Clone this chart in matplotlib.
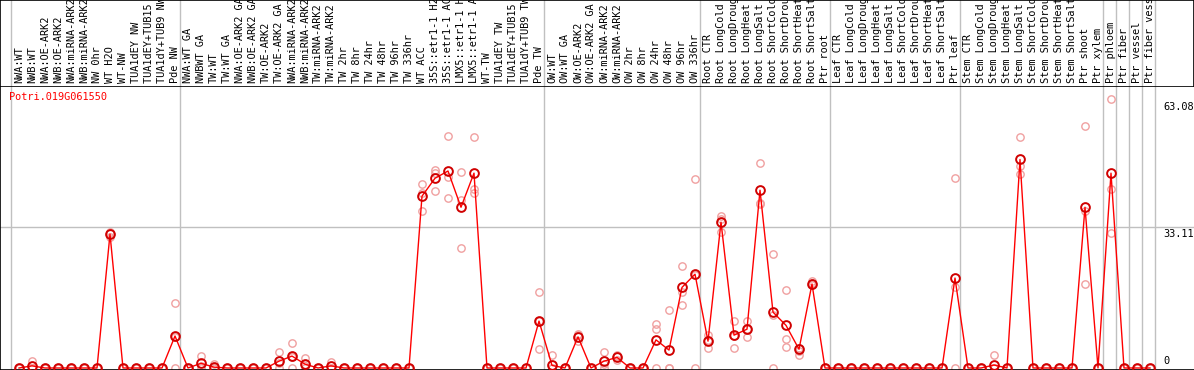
import matplotlib
matplotlib.use("Agg")
import matplotlib.pyplot as plt

# nomes das amostras (uma coluna por amostra)
amostras = [
    "NWA:WT", "NWB:WT", "NWA:OE-ARK2", "NWB:OE-ARK2", "NWA:miRNA-ARK2",
    "NWB:miRNA-ARK2", "NW 0hr", "WT H2O", "WT-NW", "TUA1dEY NW",
    "TUA1dEY+TUB15 NW", "TUA1dY+TUB9 NW", "Pde NW",
    "NWA:WT GA", "NWBWT GA", "TW:WT", "TW:WT GA", "NWA:OE-ARK2 GA",
    "NWB:OE-ARK2 GA", "TW:OE-ARK2", "TW:OE-ARK2 GA", "NWA:miRNA-ARK2",
    "NWB:miRNA-ARK2", "TW:miRNA-ARK2", "TW:miRNA-ARK2", "TW 2hr", "TW 8hr",
    "TW 24hr", "TW 48hr", "TW 96hr", "TW 336hr", "WT ACC",
    "35S::etr1-1 H2O", "35S::etr1-1 ACC", "LMX5::etr1-1 H2O",
    "LMX5::etr1-1 ACC", "WT-TW", "TUA1dEY TW", "TUA1dEY+TUB15 TW",
    "TUA1dY+TUB9 TW", "Pde TW",
    "OW:WT", "OW:WT GA", "OW:OE-ARK2", "OW:OE-ARK2 GA", "OW:miRNA-ARK2",
    "OW:miRNA-ARK2", "OW 2hr", "OW 8hr", "OW 24hr", "OW 48hr", "OW 96hr",
    "OW 336hr",
    "Root CTR", "Root LongCold", "Root LongDrought", "Root LongHeat",
    "Root LongSalt", "Root ShortCold", "Root ShortDrought", "Root ShortHeat",
    "Root ShortSalt", "Ptr root",
    "Leaf CTR", "Leaf LongCold", "Leaf LongDrought", "Leaf LongHeat",
    "Leaf LongSalt", "Leaf ShortCold", "Leaf ShortDrought", "Leaf ShortHeat",
    "Leaf ShortSalt", "Ptr leaf",
    "Stem CTR", "Stem LongCold", "Stem LongDrought", "Stem LongHeat",
    "Stem LongSalt", "Stem ShortCold", "Stem ShortDrought", "Stem ShortHeat",
    "Stem ShortSalt", "Ptr shoot", "Ptr xylem",
    "Ptr phloem", "Ptr fiber", "Ptr vessel", "Ptr fiber vessel",
]

# media por amostra
medias = [
    0, 0.5, 0, 0, 0, 0, 0, 31.4, 0, 0, 0, 0, 7.5,
    0, 1.1, 0.2, 0, 0, 0, 0, 1.6, 2.8, 0.9, 0, 0.5, 0, 0, 0, 0, 0, 0,
    40.3, 44.5, 46.2, 37.7, 45.7, 0, 0, 0, 0, 11.0,
    0.6, 0, 7.3, 0, 1.6, 2.5, 0, 0, 6.6, 4.2, 18.9, 22.0,
    6.3, 34.2, 7.7, 9.1, 41.7, 13.1, 10.0, 4.4, 19.7, 0,
    0, 0, 0, 0, 0, 0, 0, 0, 0, 21.1,
    0, 0, 0.7, 0, 48.9, 0, 0, 0, 0, 37.7, 0,
    45.7, 0, 0, 0,
]

# replicatas visiveis (indice da amostra -> valores); as demais ficam em zero
replicatas = {
    1: [1.6, 0, 0], 7: [32.0, 31.7, 30.7], 12: [15.2, 7.3, 0],
    14: [2.8, 0.5, 0], 15: [1.0, 0, 0], 20: [3.7, 1.1, 0],
    21: [5.8, 2.6, 0], 22: [2.3, 0.5, 0], 24: [1.5, 0, 0],
    31: [43.2, 41.0, 36.8], 32: [46.4, 45.7, 41.4], 33: [54.4, 44.7, 39.8],
    34: [45.9, 39.4, 28.1], 35: [54.2, 41.9, 41.0], 40: [17.8, 11.0, 4.5],
    41: [3.0, 0, 0], 43: [7.9, 7.7, 6.4], 45: [3.8, 1.0, 0],
    46: [3.0, 2.7, 1.8], 49: [10.3, 9.2, 0], 50: [13.6, 0, 0],
    51: [23.9, 17.8, 14.7], 52: [44.3, 21.7, 0], 53: [7.7, 6.6, 4.6],
    54: [35.7, 34.9, 31.8], 55: [11.0, 7.5, 4.6], 56: [11.0, 9.1, 7.2],
    57: [48.0, 38.8, 38.4], 58: [26.7, 12.4, 0], 59: [18.2, 6.7, 4.9],
    60: [4.6, 4.0, 3.0], 61: [20.5, 20.0, 19.4], 72: [44.5, 19.1, 0],
    75: [3.0, 0, 0], 77: [54.1, 47.4, 45.5], 82: [56.8, 36.8, 19.7],
    84: [63.08, 41.9, 31.6],
}

# primeira amostra de cada grupo (linhas de separacao)
inicio_grupos = [0, 13, 41, 53, 63, 73, 84, 85, 86, 87, 88]
ticks_y = [0, 33.11, 63.08]
gene = "Potri.019G061550"

W, H = 1194, 370
fig = plt.figure(figsize=(W / 100, H / 100), dpi=100)
topo = 86  # altura (px) da faixa de rotulos
ax = fig.add_axes([0, 0, 1, (H - topo) / H])
lax = fig.add_axes([0, (H - topo) / H, 1, topo / H])

px_col = 13.0
x0 = -19 / px_col
x1 = (W - 19) / px_col
esc = 4.264  # px por unidade
ax.set_xlim(x0, x1)
ax.set_ylim(-2 / esc, (H - topo - 2) / esc)
lax.set_xlim(x0, x1)
lax.set_ylim(0, 1)

fonte = "DejaVu Sans Mono"
cinza = "#c0c0c0"
tam = 7.4

for g in inicio_grupos:
    ax.axvline(g - 0.62, color=cinza, lw=1, zorder=1)
    lax.axvline(g - 0.62, color=cinza, lw=1, zorder=1)
ax.axhline(ticks_y[1], color=cinza, lw=1, zorder=1)

xs = list(range(len(amostras)))
for i in xs:
    vals = replicatas.get(i, [0, 0, 0])
    ax.plot([i] * len(vals), vals, "o", ms=5.3, mfc="none", mec="#f0a0a0",
            mew=1.0, zorder=2, clip_on=False)
ax.plot(xs, medias, "-", color="red", lw=1, zorder=3)
ax.plot(xs, medias, "o", ms=6.3, mfc="none", mec="#d00000", mew=1.4,
        zorder=4, clip_on=False)

ax.text(0.0075, 1 - 11 / (H - topo), gene, transform=ax.transAxes,
        color="red", family=fonte, fontsize=tam, va="center", ha="left")

xr = (1163 - 19) / px_col
ax.text(xr, ticks_y[0] + 0.4, "0", family=fonte, fontsize=tam,
        va="bottom", ha="left")
ax.text(xr, ticks_y[1] - 0.4, "33.11", family=fonte, fontsize=tam,
        va="top", ha="left")
ax.text(xr, ticks_y[2] - 0.6, "63.08", family=fonte, fontsize=tam,
        va="top", ha="left")

for i, nome in enumerate(amostras):
    lax.text(i, 3 / topo, nome, rotation=90, family=fonte, fontsize=tam,
             ha="center", va="bottom", clip_on=True)

for a in (ax, lax):
    a.set_xticks([])
    a.set_yticks([])
    for s in a.spines.values():
        s.set_color("black")
        s.set_linewidth(1.2)
ax.spines["right"].set_visible(False)
lax.spines["bottom"].set_visible(False)

fig.savefig("out.png", dpi=100)
